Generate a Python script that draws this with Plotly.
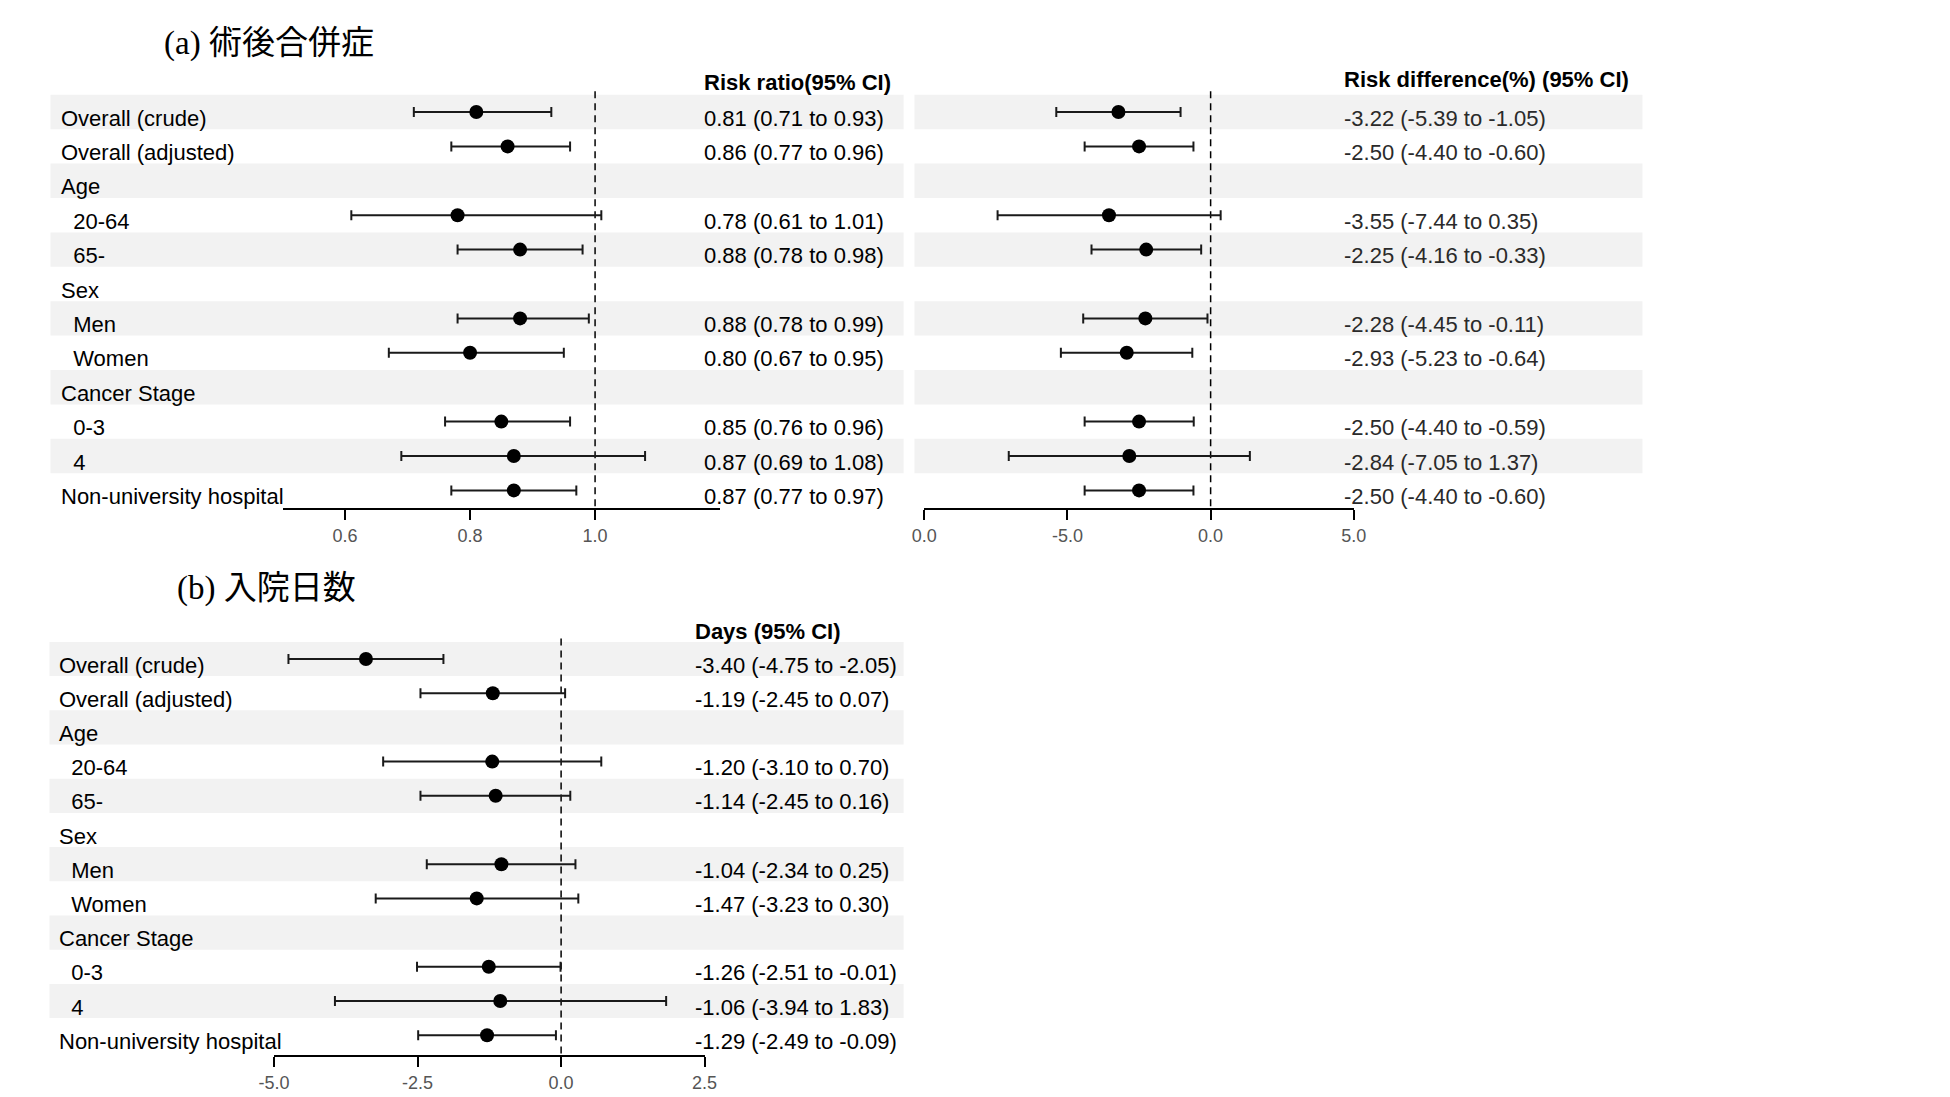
import plotly.graph_objects as go

W, H = 1950, 1097

# ---------------- data ----------------
labels = ["Overall (crude)", "Overall (adjusted)", "Age", "  20-64", "  65-", "Sex",
          "  Men", "  Women", "Cancer Stage", "  0-3", "  4", "Non-university hospital"]

rr_est = [0.81, 0.86, None, 0.78, 0.88, None, 0.88, 0.80, None, 0.85, 0.87, 0.87]
rr_lo = [0.71, 0.77, None, 0.61, 0.78, None, 0.78, 0.67, None, 0.76, 0.69, 0.77]
rr_hi = [0.93, 0.96, None, 1.01, 0.98, None, 0.99, 0.95, None, 0.96, 1.08, 0.97]

rd_est = [-3.22, -2.50, None, -3.55, -2.25, None, -2.28, -2.93, None, -2.50, -2.84, -2.50]
rd_lo = [-5.39, -4.40, None, -7.44, -4.16, None, -4.45, -5.23, None, -4.40, -7.05, -4.40]
rd_hi = [-1.05, -0.60, None, 0.35, -0.33, None, -0.11, -0.64, None, -0.59, 1.37, -0.60]

days_est = [-3.40, -1.19, None, -1.20, -1.14, None, -1.04, -1.47, None, -1.26, -1.06, -1.29]
days_lo = [-4.75, -2.45, None, -3.10, -2.45, None, -2.34, -3.23, None, -2.51, -3.94, -2.49]
days_hi = [-2.05, 0.07, None, 0.70, 0.16, None, 0.25, 0.30, None, -0.01, 1.83, -0.09]

rr_ticks = [0.6, 0.8, 1.0]
rr_ticktext = ["0.6", "0.8", "1.0"]
rd_ticks = [-10, -5, 0, 5]
rd_ticktext = ["0.0", "-5.0", "0.0", "5.0"]
days_ticks = [-5, -2.5, 0, 2.5]
days_ticktext = ["-5.0", "-2.5", "0.0", "2.5"]

title_a = "(a) 術後合併症"
title_b = "(b) 入院日数"
head_rr = "Risk ratio(95% CI)"
head_rd = "Risk difference(%) (95% CI)"
head_days = "Days (95% CI)"

# ---------------- geometry (pixels) ----------------
def px(p):
    return p / W

def py(p):
    return 1 - p / H

A_row0, A_pitch, A_axis, A_top = 112.0, 34.4, 508.0, 86.0
B_row0, B_pitch, B_axis, B_top = 659.0, 34.2, 1055.0, 634.0

A_range = [(A_axis - A_row0) / A_pitch, (A_top - A_row0) / A_pitch]
B_range = [(B_axis - B_row0) / B_pitch, (B_top - B_row0) / B_pitch]

LABEL_FONT = "Liberation Sans, Arial, sans-serif"
TITLE_FONT = "Liberation Serif, Noto Sans CJK JP, serif"
BAND = "#f2f2f2"

fig = go.Figure()

def add_points(est, lo, hi, xa, ya):
    xs, ys, ep, em = [], [], [], []
    for i, (e, l, h) in enumerate(zip(est, lo, hi)):
        if e is None:
            continue
        xs.append(e)
        ys.append(i)
        ep.append(h - e)
        em.append(e - l)
    fig.add_trace(go.Scatter(
        x=xs, y=ys, xaxis=xa, yaxis=ya, mode="markers",
        marker=dict(size=14, color="black", symbol="circle"),
        error_x=dict(type="data", symmetric=False, array=ep, arrayminus=em,
                     color="#1a1a1a", thickness=2, width=5),
        showlegend=False, hoverinfo="skip"))

add_points(rr_est, rr_lo, rr_hi, "x", "y")
add_points(rd_est, rd_lo, rd_hi, "x2", "y")
add_points(days_est, days_lo, days_hi, "x3", "y2")

shapes = []
annotations = []

def bands(x0p, x1p, yref, n):
    for i in range(0, n, 2):
        shapes.append(dict(type="rect", xref="paper", yref=yref,
                           x0=px(x0p), x1=px(x1p), y0=i - 0.5, y1=i + 0.5,
                           fillcolor=BAND, line=dict(width=0), layer="below"))

n = len(labels)
bands(35, 901, "y", n)
bands(912, 1651, "y", n)
bands(34, 901, "y2", n)

def vline(xref, xval, yref, ybottom):
    shapes.append(dict(type="line", xref=xref, yref=yref, x0=xval, x1=xval,
                       y0=-0.6, y1=ybottom,
                       line=dict(color="black", width=1.5, dash="7px,5px"),
                       layer="below"))

vline("x", 1.0, "y", A_range[0])
vline("x2", 0.0, "y", A_range[0])
vline("x3", 0.0, "y2", B_range[0])

def txt(s):
    stripped = s.lstrip(" ")
    return "\u00a0" * (len(s) - len(stripped)) + stripped

def fmt(e, l, h):
    return f"{e:.2f} ({l:.2f} to {h:.2f})"

def row_texts(xp, yref, items, color="black"):
    for i, s in enumerate(items):
        if not s:
            continue
        annotations.append(dict(text=txt(s), xref="paper", yref=yref, x=px(xp), y=i,
                                xanchor="left", yanchor="middle", yshift=-6,
                                showarrow=False,
                                font=dict(family=LABEL_FONT, size=22, color=color)))

def val_list(est, lo, hi):
    return [fmt(e, l, h) if e is not None else "" for e, l, h in zip(est, lo, hi)]

row_texts(44, "y", labels)
row_texts(696, "y", val_list(rr_est, rr_lo, rr_hi))
row_texts(1346, "y", val_list(rd_est, rd_lo, rd_hi), color="#2a2a2a")
row_texts(42, "y2", labels)
row_texts(687, "y2", val_list(days_est, days_lo, days_hi))

def head(s, xp, yp, bold=True, size=22, family=LABEL_FONT):
    annotations.append(dict(text=f"<b>{s}</b>" if bold else s, xref="paper", yref="paper",
                            x=px(xp), y=py(yp), xanchor="left", yanchor="middle",
                            showarrow=False, font=dict(family=family, size=size, color="black")))

head(head_rr, 696, 82)
head(head_rd, 1346, 79)
head(head_days, 687, 631)
head(title_a, 148, 43, bold=False, size=33, family=TITLE_FONT)
head(title_b, 161, 588, bold=False, size=33, family=TITLE_FONT)

xcommon = dict(showgrid=False, zeroline=False, showline=True, linecolor="black",
               linewidth=2, ticks="outside", ticklen=10, tickwidth=1.5,
               tickcolor="black", tickmode="array",
               tickfont=dict(family=LABEL_FONT, size=18, color="#555555"))
ycommon = dict(showgrid=False, zeroline=False, showline=False, showticklabels=False,
               ticks="")

fig.update_layout(
    width=W, height=H, autosize=False,
    margin=dict(l=0, r=0, t=0, b=0),
    paper_bgcolor="white", plot_bgcolor="rgba(0,0,0,0)",
    font=dict(family=LABEL_FONT),
    xaxis=dict(domain=[px(270.6), px(714.7)], range=[0.5, 1.2], anchor="y",
               tickvals=rr_ticks, ticktext=rr_ticktext, **xcommon),
    xaxis2=dict(domain=[px(922), px(1358)], range=[-10, 5], anchor="y",
                tickvals=rd_ticks, ticktext=rd_ticktext, **xcommon),
    xaxis3=dict(domain=[px(262), px(699)], range=[-5, 2.5], anchor="y2",
                tickvals=days_ticks, ticktext=days_ticktext, **xcommon),
    yaxis=dict(domain=[py(A_axis), py(A_top)], range=A_range, anchor="x", **ycommon),
    yaxis2=dict(domain=[py(B_axis), py(B_top)], range=B_range, anchor="x3", **ycommon),
    shapes=shapes,
    annotations=annotations,
)

fig.write_html("out.html", config={"displayModeBar": False},
               post_script="document.body.style.margin='0px';")
